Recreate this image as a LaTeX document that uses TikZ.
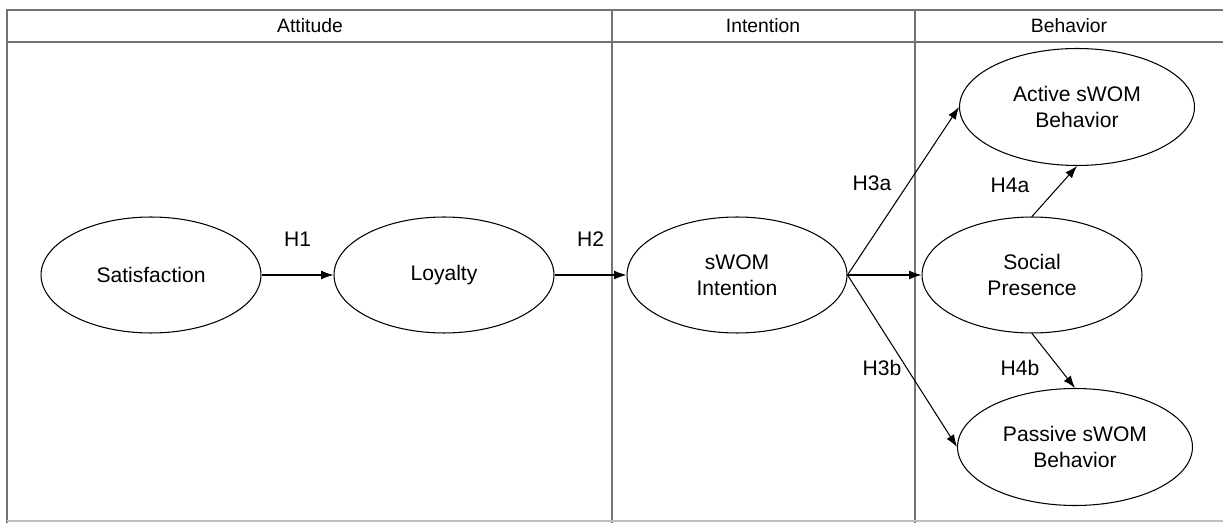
\documentclass[tikz,border=0pt]{standalone}
\usepackage{fontspec}
\setmainfont{Liberation Sans}
\usetikzlibrary{shapes.geometric,arrows.meta}

\begin{document}
\begin{tikzpicture}[x=0.02cm,y=-0.02cm,
  construct/.style={ellipse,draw,line width=0.6pt,minimum width=4.4cm,minimum height=2.32cm,
    inner sep=0pt,align=center,font=\fontsize{12}{15}\selectfont},
  behave/.style={construct,minimum width=4.7cm,minimum height=2.34cm},
  frame/.style={draw=black!55,line width=0.6pt},
  link/.style={->,line width=0.6pt},
  hyp/.style={font=\fontsize{12}{15}\selectfont},
  head/.style={font=\fontsize{11}{14}\selectfont},
  >={Latex[length=7pt,width=5pt]}]
  \useasboundingbox (0,0) rectangle (1223,523);
  % columns
  \draw[frame] (1223,10) -- (7,10) -- (7,523);
  \draw[frame] (7,42) -- (1223,42);
  \draw[frame] (612,10) -- (612,523);
  \draw[frame] (915,10) -- (915,523);
  \draw[draw=black!25,line width=0.6pt] (7,521) -- (1223,521);
  \node[head] (attitude) at (310,26) {Attitude};
  \node[head] (intention) at (763,26) {Intention};
  \node[head] (behavior) at (1069,26) {Behavior};
  % constructs
  \node[construct] (sat) at (151,275) {Satisfaction};
  \node[construct] (loy) at (444,275) {Loyalty};
  \node[construct] (int) at (737,275) {sWOM\\Intention};
  \node[construct] (soc) at (1032,275) {Social\\Presence};
  \node[behave] (act) at (1077,107) {Active sWOM\\Behavior};
  \node[behave] (pas) at (1075,447) {Passive sWOM\\Behavior};
  % hypotheses
  \draw[link] (sat) -- node[hyp,yshift=0.72cm] {H1} (loy);
  \draw[link] (loy) -- node[hyp,yshift=0.72cm] {H2} (int);
  \draw[link] (int.east) -- (act.west);
  \draw[link] (int.east) -- (soc.west);
  \draw[link] (int.east) -- (pas.west);
  \draw[link] (soc.north) -- (act.south);
  \draw[link] (soc.south) -- (pas.north);
  \node[hyp] (h3a) at (872,183) {H3a};
  \node[hyp] (h3b) at (882,368) {H3b};
  \node[hyp] (h4a) at (1010,185) {H4a};
  \node[hyp] (h4b) at (1020,368) {H4b};
\end{tikzpicture}
\end{document}
